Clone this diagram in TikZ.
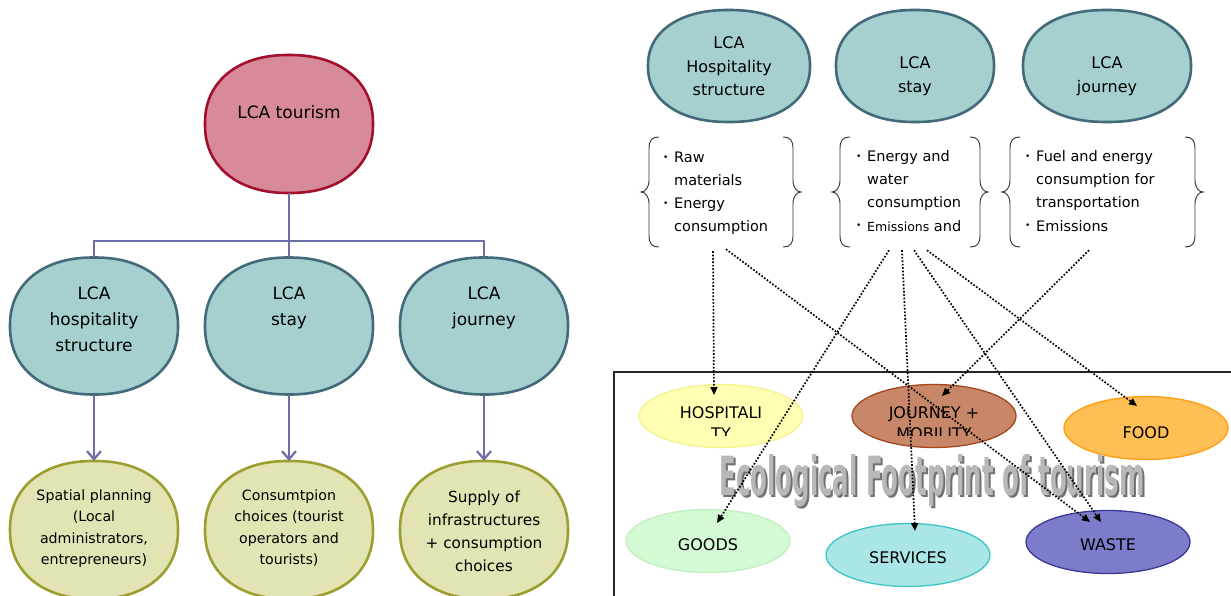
\documentclass[tikz,border=0pt]{standalone}
\usepackage{fontspec}
\setmainfont{DejaVu Sans}
\usetikzlibrary{arrows.meta,calc,shapes.geometric}
\definecolor{tourF}{HTML}{D8899A}
\definecolor{tourB}{HTML}{A2102E}
\definecolor{tealF}{HTML}{A6D0D0}
\definecolor{tealB}{HTML}{426A7A}
\definecolor{oliveF}{HTML}{E3E4B4}
\definecolor{oliveB}{HTML}{9D9D30}
\definecolor{connC}{HTML}{6D6DA8}
\definecolor{hospF}{HTML}{FFFFB4}
\definecolor{hospB}{HTML}{F2F28C}
\definecolor{jourF}{HTML}{C98769}
\definecolor{jourB}{HTML}{A3461E}
\definecolor{foodF}{HTML}{FFBF55}
\definecolor{foodB}{HTML}{FF9C10}
\definecolor{goodF}{HTML}{D4FAD4}
\definecolor{goodB}{HTML}{C2EFC2}
\definecolor{servF}{HTML}{AAE6E6}
\definecolor{servB}{HTML}{3CC4C4}
\definecolor{wasteF}{HTML}{7C7CCB}
\definecolor{wasteB}{HTML}{3A3A94}
\definecolor{wmC}{HTML}{B8B8B8}
\definecolor{wmS}{HTML}{707070}
\newcommand{\bul}{\makebox[11pt][l]{\raisebox{2pt}{\fontsize{9}{9}\selectfont •}}}
\newcommand{\ind}{\hspace*{11pt}}
\newcommand{\lbrc}[2]{\draw[bracestyle, shift={(#1,#2)}] (18,0) .. controls (11,0) and (8,3) .. (8,12) -- (8,43) .. controls (8,51) and (4,55) .. (0,55) .. controls (4,55) and (8,59) .. (8,67) -- (8,98) .. controls (8,107) and (11,110) .. (18,110);}
\newcommand{\rbrc}[2]{\draw[bracestyle, shift={(#1,#2)}, xscale=-1] (18,0) .. controls (11,0) and (8,3) .. (8,12) -- (8,43) .. controls (8,51) and (4,55) .. (0,55) .. controls (4,55) and (8,59) .. (8,67) -- (8,98) .. controls (8,107) and (11,110) .. (18,110);}
% superellipse outline: #1 style, #2 node, #3 half width, #4 half height
\newcommand{\sell}[4]{\draw[#1, shift={(#2.center)}] plot[domain=0.5:360.5, samples=121, variable=\t]
  ({#3*sign(cos(\t))*abs(cos(\t))^(0.9)}, {#4*sign(sin(\t))*abs(sin(\t))^(0.9)}) -- cycle;}
\begin{document}
\begin{tikzpicture}[x=1pt,y=-1pt,
  every node/.style={inner sep=0pt},
  box/.style={rectangle, minimum width=168pt, minimum height=137pt},
  shp/.style={line width=2.6pt, line join=round},
  tourS/.style={shp, draw=tourB, fill=tourF},
  lcaS/.style={shp, draw=tealB, fill=tealF},
  oliS/.style={shp, draw=oliveB, fill=oliveF},
  lab/.style={align=center, anchor=base, font=\fontsize{17}{26}\selectfont},
  labs/.style={align=center, anchor=base, font=\fontsize{14.2}{21.5}\selectfont},
  labm/.style={align=center, anchor=base, font=\fontsize{15.3}{23}\selectfont},
  labt/.style={align=center, anchor=base, font=\fontsize{16}{23.5}\selectfont},
  brtxt/.style={align=left, anchor=base west, font=\fontsize{14.5}{23.3}\selectfont},
  bracestyle/.style={draw=black!80, line width=0.9pt},
  ell/.style={ellipse, line width=1.3pt, minimum width=164pt, minimum height=63pt},
  elab/.style={align=center, anchor=base, font=\fontsize{16}{21}\selectfont},
  conn/.style={draw=connC, line width=2.2pt},
  carr/.style={conn, -{Straight Barb[length=8pt,width=14pt]}},
  dotc/.style={line width=1.7pt, dash pattern=on 1.7pt off 1.7pt, -{Triangle[length=8pt,width=7pt]}}
]
\useasboundingbox (0,0) rectangle (1231,596);
\fill[white] (0,0) rectangle (1231,596);
\clip (0,0) rectangle (1231,596);

% ---------------- left tree
\node[box, minimum height=138pt] (tour) at (289,124) {};
\node[box] (b1) at (94,326) {};
\node[box] (b2) at (289,326) {};
\node[box] (b3) at (484,326) {};
\node[box, minimum height=138pt] (g1) at (94,530) {};
\node[box, minimum height=138pt] (g2) at (289,530) {};
\node[box, minimum height=138pt] (g3) at (484,530) {};
\sell{tourS}{tour}{84}{69}
\sell{lcaS}{b1}{84}{68.5}
\sell{lcaS}{b2}{84}{68.5}
\sell{lcaS}{b3}{84}{68.5}
\sell{oliS}{g1}{84}{69}
\sell{oliS}{g2}{84}{69}
\sell{oliS}{g3}{84}{69}
\node[lab] (tourL) at (289,119) {LCA tourism};
\node[lab] (b1L) at (94,351) {LCA\\hospitality\\structure};
\node[lab] (b2L) at (289,325) {LCA\\stay};
\node[lab] (b3L) at (484,325) {LCA\\journey};
\node[labs] (g1L) at (94,564.5) {Spatial planning\\(Local\\administrators,\\entrepreneurs)};
\node[labs] (g2L) at (289,564.5) {Consumtpion\\choices (tourist\\operators and\\tourists)};
\node[labm] (g3L) at (484,571) {Supply of\\infrastructures\\+ consumption\\choices};
\coordinate (hub) at (289,241);
\draw[conn] (tour.south) -- (hub) -| (b1.north);
\draw[conn] (hub) -| (b3.north);
\draw[conn] (hub) -- (b2.north);
\draw[carr] (b1.south) -- (g1.north);
\draw[carr] (b2.south) -- (g2.north);
\draw[carr] (b3.south) -- (g3.north);

% ---------------- right top
\node[box, minimum width=162pt, minimum height=112pt] (s1) at (729,66) {};
\node[box, minimum width=158pt, minimum height=112pt] (s2) at (915,66) {};
\node[box, minimum width=168pt, minimum height=112pt] (s3) at (1107,66) {};
\sell{lcaS}{s1}{81}{56}
\sell{lcaS}{s2}{79}{56}
\sell{lcaS}{s3}{84}{56}
\node[labt] (s1L) at (729,96) {LCA\\Hospitality\\structure};
\node[labt] (s2L) at (915,92.5) {LCA\\stay};
\node[labt] (s3L) at (1107,92.5) {LCA\\journey};

\node[minimum width=160pt, minimum height=112pt] (box1) at (721,192) {};
\node[minimum width=156pt, minimum height=112pt] (box2) at (910,192) {};
\node[minimum width=201pt, minimum height=112pt] (box3) at (1102,192) {};
\lbrc{641}{137}\rbrc{801}{137}
\lbrc{832}{137}\rbrc{988}{137}
\lbrc{1002}{137}\rbrc{1203}{137}
\node[brtxt] (x1L) at (663,232) {\bul Raw\\\ind materials\\\bul Energy\\\ind consumption};
\node[brtxt] (x2L) at (856,231) {\bul Energy and\\\ind water\\\ind consumption\\\bul{\fontsize{12.5}{23.3}\selectfont Emissions} and};
\node[brtxt] (x3L) at (1025,231) {\bul Fuel and energy\\\ind consumption for\\\ind transportation\\\bul Emissions};

% ---------------- footprint frame
\draw[line width=1.2pt, draw=black!85] (614,600) -- (614,372) -- (1235,372);

\node[ell, draw=hospB, fill=hospF] (hosp) at (721,416) {};
\node[ell, draw=jourB, fill=jourF] (jour) at (934,416) {};
\node[ell, draw=foodB, fill=foodF] (food) at (1146,428) {};
\node[ell, draw=goodB, fill=goodF] (goods) at (708,541) {};
\node[ell, draw=servB, fill=servF] (serv) at (908,555) {};
\node[ell, draw=wasteB, fill=wasteF] (waste) at (1108,542) {};
\begin{scope}
\clip (630,380) rectangle (815,435);
\node[elab] (hospL) at (721,439) {HOSPITALI\\TY};
\end{scope}
\begin{scope}
\clip (845,380) rectangle (1025,435);
\node[elab] (jourL) at (934,439) {JOURNEY +\\MOBILITY};
\end{scope}
\node[elab] (foodL) at (1146,438) {FOOD};
\node[elab] (goodsL) at (708,550) {GOODS};
\node[elab] (servL) at (908,563) {SERVICES};
\node[elab] (wasteL) at (1108,550) {WASTE};

\node[anchor=base, text=wmS] (wmShadow) at (934,497) {\resizebox{425pt}{41pt}{\bfseries Ecological Footprint of tourism}};
\node[anchor=base, text=wmC] (wm) at (932,495) {\resizebox{425pt}{41pt}{\bfseries Ecological Footprint of tourism}};

% ---------------- dotted connectors
\draw[dotc] ($(box1.south)+(-8,3)$) -- ($(hosp.center)+(-7,-21)$);
\draw[dotc] ($(box1.south)+(5,1)$) -- ($(waste.center)+(-18,-20)$);
\draw[dotc] ($(box2.south)+(-21,2)$) -- ($(goods.center)+(9,-18)$);
\draw[dotc] ($(box2.south)+(-8,2)$) -- ($(serv.center)+(7,-24)$);
\draw[dotc] ($(box2.south)+(4,2)$) -- ($(waste.center)+(-7,-20)$);
\draw[dotc] ($(box2.south)+(17,2)$) -- ($(food.center)+(-9,-22)$);
\draw[dotc] ($(box3.south)+(-13,2)$) -- ($(jour.center)+(8,-20)$);
\end{tikzpicture}
\end{document}
